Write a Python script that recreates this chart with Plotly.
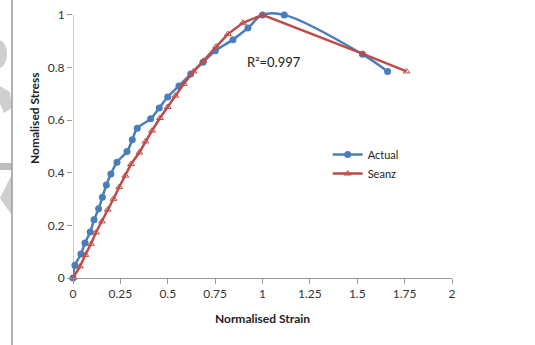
import plotly.graph_objects as go

actual_strain = [0.0, 0.01, 0.042, 0.063, 0.091, 0.111, 0.135, 0.155, 0.176, 0.2, 0.232,
                 0.285, 0.313, 0.339, 0.41, 0.455, 0.5, 0.559, 0.621, 0.686, 0.751, 0.844,
                 0.923, 1.0, 1.115, 1.528, 1.66]
actual_stress = [0.0, 0.048, 0.091, 0.133, 0.175, 0.221, 0.263, 0.307, 0.353, 0.395, 0.44,
                 0.481, 0.525, 0.569, 0.605, 0.646, 0.688, 0.73, 0.775, 0.82, 0.864, 0.906,
                 0.95, 1.0, 1.0, 0.85, 0.785]

seanz_strain = [0.0, 0.037, 0.065, 0.095, 0.121, 0.153, 0.183, 0.214, 0.244, 0.276, 0.306,
                0.35, 0.382, 0.417, 0.459, 0.5, 0.54, 0.585, 0.636, 0.689, 0.756, 0.817,
                0.897, 1.0, 1.53, 1.76]
seanz_stress = [0.0, 0.044, 0.088, 0.13, 0.173, 0.215, 0.26, 0.301, 0.346, 0.389, 0.433,
                0.477, 0.519, 0.56, 0.608, 0.65, 0.693, 0.738, 0.785, 0.826, 0.88, 0.927,
                0.97, 1.0, 0.852, 0.785]

x_ticks = [0, 0.25, 0.5, 0.75, 1, 1.25, 1.5, 1.75, 2]
x_tick_labels = ["0", "0.25", "0.5", "0.75", "1", "1.25", "1.5", "1.75", "2"]
y_ticks = [0, 0.2, 0.4, 0.6, 0.8, 1]
y_tick_labels = ["0", "0.2", "0.4", "0.6", "0.8", "1"]

blue = "#4A7EBB"
red = "#BE4B48"
font = "Lato, 'Open Sans', sans-serif"

W, H = 535, 345
ML, MR, MT, MB = 73, 83, 7, 67
PW, PH = W - ML - MR, H - MT - MB


def px(x):
    return (x - ML) / PW


def py(y):
    return (H - MB - y) / PH


fig = go.Figure()
fig.add_trace(go.Scatter(
    x=actual_strain, y=actual_stress, name="Actual", mode="lines+markers",
    line=dict(color=blue, width=2.5, shape="spline", smoothing=1.0),
    marker=dict(symbol="circle", size=7, color=blue),
    cliponaxis=False,
))
fig.add_trace(go.Scatter(
    x=seanz_strain, y=seanz_stress, name="Seanz", mode="lines+markers",
    line=dict(color=red, width=2.5),
    marker=dict(symbol="triangle-up-open", size=6, color=red, line=dict(width=1)),
    cliponaxis=False,
))

fig.add_annotation(x=1.063, y=0.821, xref="x", yref="y", text="R²=0.997",
                   showarrow=False, xanchor="center", yanchor="middle",
                   font=dict(family=font, size=13, color="#222"))

# y axis title (placed as in the reference, above the plot centre)
fig.add_annotation(x=px(34), y=py(118), xref="paper", yref="paper",
                   text="<b>Nomalised Stress</b>", textangle=-90, showarrow=False,
                   xanchor="center", yanchor="middle",
                   font=dict(family=font, size=12, color="#222"))

# y axis line from 0 to 1 only
fig.add_shape(type="line", xref="x", yref="y", x0=0, x1=0, y0=0, y1=1,
              line=dict(color="#999", width=1), layer="below")

# faint background watermark at the left edge of the page
gray = "#cfcfcf"
fig.add_shape(type="circle", xref="paper", yref="paper",
              x0=px(-10), x1=px(7), y0=py(68), y1=py(40),
              fillcolor=gray, line=dict(width=0), layer="below")
fig.add_shape(type="path", xref="paper", yref="paper",
              path=f"M {px(0)},{py(86)} L {px(10)},{py(92)} L {px(12)},{py(108)} L {px(4)},{py(113)} L {px(0)},{py(104)} Z",
              fillcolor=gray, line=dict(width=0), layer="below")
fig.add_shape(type="rect", xref="paper", yref="paper",
              x0=px(0), x1=px(12), y0=py(170), y1=py(163),
              fillcolor="#bdbdbd", line=dict(width=0), layer="below")
fig.add_shape(type="path", xref="paper", yref="paper",
              path=f"M {px(0)},{py(198)} L {px(12)},{py(174)} L {px(12)},{py(215)} L {px(6)},{py(207)} Z",
              fillcolor=gray, line=dict(width=0), layer="below")

# left page border line
fig.add_shape(type="line", xref="paper", yref="paper", x0=px(12), x1=px(12), y0=py(345), y1=py(0),
              line=dict(color="#9a9a9a", width=1.5))

fig.update_layout(
    width=W, height=H,
    margin=dict(l=ML, r=MR, t=MT, b=MB),
    paper_bgcolor="white", plot_bgcolor="white",
    font=dict(family=font, size=12, color="#333"),
    showlegend=True,
    legend=dict(x=0.672, y=0.509, xanchor="left", yanchor="top",
                bgcolor="rgba(0,0,0,0)", font=dict(size=11, color="#222"),
                tracegroupgap=2, itemwidth=30),
    xaxis=dict(range=[0, 2], tickvals=x_ticks, ticktext=x_tick_labels,
               showgrid=False, zeroline=False, showline=True, linecolor="#999",
               ticks="outside", ticklen=5, tickcolor="#999",
               title=dict(text="<b>Normalised Strain</b>", standoff=14,
                          font=dict(size=12, color="#222"))),
    yaxis=dict(range=[0, 1.03], tickvals=y_ticks, ticktext=y_tick_labels,
               showgrid=False, zeroline=False, showline=False,
               ticks="outside", ticklen=5, tickcolor="#999"),
)

fig.write_html("out.html")
